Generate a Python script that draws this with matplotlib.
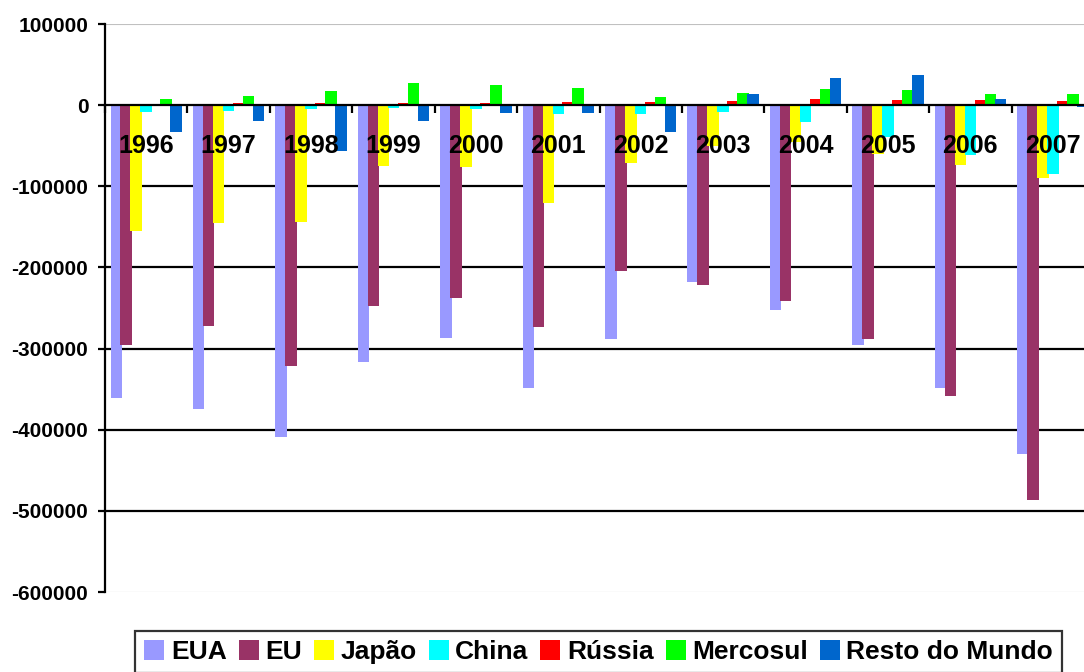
import numpy as np
import matplotlib
matplotlib.use("Agg")
import matplotlib.pyplot as plt

plt.rcParams['font.family'] = ['Liberation Sans', 'DejaVu Sans']
plt.rcParams['font.weight'] = 'bold'

years = ['1996', '1997', '1998', '1999', '2000', '2001',
         '2002', '2003', '2004', '2005', '2006', '2007']

eua = [-361000, -374000, -409000, -316500, -287000, -349000,
       -287600, -217700, -253000, -296000, -349000, -429600]
eu = [-296000, -272000, -322000, -247000, -238000, -274000,
      -204600, -222000, -241000, -288500, -358000, -487000]
japao = [-155000, -145000, -144000, -74500, -75800, -120000,
         -71700, -50000, -45000, -60000, -73700, -90000]
china = [-8000, -7000, -4500, -3300, -5300, -11000,
         -11000, -8000, -20600, -39000, -61400, -84800]
russia = [500, 2800, 2500, 2500, 2500, 4100,
          4000, 5300, 7000, 6200, 6200, 5000]
mercosul = [7400, 11500, 17300, 27000, 24700, 21000,
            9500, 14400, 19300, 18100, 13600, 13600]
resto = [-33700, -20000, -56400, -19800, -9500, -9500,
         -33700, 13200, 33700, 36600, 7400, -2500]

series = [('EUA', eua, '#9999FF'),
          ('EU', eu, '#993366'),
          ('Japão', japao, '#FFFF00'),
          ('China', china, '#00FFFF'),
          ('Rússia', russia, '#FF0000'),
          ('Mercosul', mercosul, '#00FF00'),
          ('Resto do Mundo', resto, '#0066CC')]

fig = plt.figure(figsize=(10.84, 6.72), dpi=100)
ax = fig.add_axes([105 / 1084, 1 - 592 / 672, 989 / 1084, 568 / 672])

x = np.arange(len(years))
step = 0.121
width = 0.14
for i, (name, vals, color) in enumerate(series):
    ax.bar(x + (i - 3) * step, vals, width=width, color=color,
           label=name, zorder=3, linewidth=0)

ax.set_xlim(-0.5, len(years) - 0.5)
ax.set_ylim(-600000, 100000)

# horizontal grid: black inside, grey at the edges
for yv in range(-500000, 0, 100000):
    ax.axhline(yv, color='black', lw=1.6, zorder=1)
ax.axhline(100000, color='#c0c0c0', lw=0.8, zorder=1)
ax.axhline(-600000, color='#b0b0b0', lw=0.8, zorder=1)

for s in ['top', 'right']:
    ax.spines[s].set_visible(False)
ax.spines['left'].set_linewidth(1.6)
ax.spines['bottom'].set_position(('data', 0))
ax.spines['bottom'].set_linewidth(1.6)
ax.spines['bottom'].set_zorder(4)

ax.set_yticks(range(-600000, 100001, 100000))
ax.set_yticklabels([str(v) for v in range(-600000, 100001, 100000)])
ax.tick_params(axis='y', direction='out', length=5, width=1.6,
               labelsize=15, pad=7)

ax.set_xticks(np.arange(len(years) + 1) - 0.5)
ax.set_xticklabels([])
ax.set_xticks(x, minor=True)
ax.set_xticklabels(years, minor=True)
ax.tick_params(axis='x', which='major', direction='out', length=6, width=1.6)
ax.tick_params(axis='x', which='minor', length=0, labelsize=18, pad=21)
ax.xaxis.set_zorder(5)

leg = fig.legend(loc='upper left', bbox_to_anchor=(135 / 1084, 1 - 631 / 672),
                 ncol=7, fontsize=19, frameon=True, fancybox=False,
                 handlelength=0.76, handleheight=0.76, handletextpad=0.25,
                 columnspacing=0.45, borderpad=0.35, borderaxespad=0)
leg.get_frame().set_edgecolor('black')
leg.get_frame().set_linewidth(1.6)

fig.savefig('out.png', dpi=100)
